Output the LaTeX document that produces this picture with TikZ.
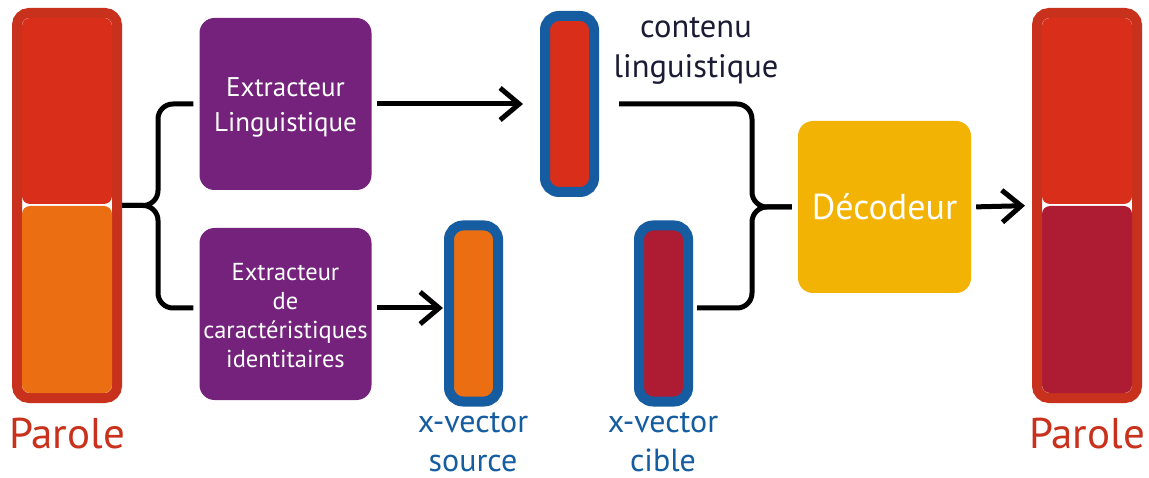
\documentclass[tikz,border=0pt]{standalone}
\usepackage{fontspec}
\setmainfont{PT Sans}
\usetikzlibrary{arrows.meta,calc}

\definecolor{barborder}{HTML}{C8311C}
\definecolor{segred}{HTML}{D82E1A}
\definecolor{segorange}{HTML}{EB6F12}
\definecolor{segwine}{HTML}{AE1C33}
\definecolor{extpurple}{HTML}{74227C}
\definecolor{vecblue}{HTML}{155CA0}
\definecolor{decyellow}{HTML}{F3B304}
\definecolor{labelnavy}{HTML}{1B1B35}

\tikzset{
  speechbar/.style={draw=barborder, line width=10pt, fill=white,
    minimum width=100pt, minimum height=385pt, rounded corners=12pt, inner sep=0pt},
  segment/.style={rounded corners=8pt},
  extractor/.style={fill=extpurple, rounded corners=15pt,
    minimum width=172pt, minimum height=172pt, inner sep=0pt},
  boxtext/.style={text=white, align=center, anchor=base, inner sep=0pt},
  vecbox/.style={draw=vecblue, line width=10pt, rounded corners=14pt,
    minimum width=49pt, minimum height=176pt, inner sep=0pt},
  decoder/.style={fill=decyellow, text=white, rounded corners=15pt,
    minimum width=173pt, minimum height=172pt, inner sep=0pt},
  conn/.style={line width=5pt, black},
  flow/.style={conn, -{Straight Barb[length=19pt,width=32pt,line width=5pt]}},
  brace/.style={conn, rounded corners=15pt},
}

\begin{document}
\begin{tikzpicture}[x=1pt, y=-1pt]
  \useasboundingbox (0,0) rectangle (1149,478);

  % input speech bar
  \node[speechbar] (parole) at (67,205.5) {};
  \fill[segred, segment] (22,18) rectangle (112,204);
  \fill[segorange, segment] (22,206) rectangle (112,393);
  \node[text=barborder, font=\fontsize{43}{43}\selectfont, anchor=base] (paroleIn) at (67,448) {Parole};

  % output speech bar
  \node[speechbar] (paroleOut) at (1087,205.5) {};
  \fill[segred, segment] (1042,18) rectangle (1132,204);
  \fill[segwine, segment] (1042,206) rectangle (1132,393);
  \node[text=barborder, font=\fontsize{43}{43}\selectfont, anchor=base] (paroleOutLbl) at (1087,448) {Parole};

  % extractors
  \node[extractor] (ling) at (285.5,104) {};
  \node[boxtext, font=\fontsize{27}{35}\selectfont] (lingTxt) at (285.5,132) {Extracteur\\Linguistique};
  \node[extractor] (ident) at (285.5,314) {};
  \node[boxtext, font=\fontsize{24.5}{29.3}\selectfont] (identTxt) at (285.5,368) {Extracteur\\de\\caractéristiques\\identitaires};

  % embedding vectors
  \node[vecbox, fill=segred] (lvec) at (569.5,104) {};
  \node[vecbox, fill=segorange] (svec) at (473.5,313.5) {};
  \node[vecbox, fill=segwine] (cvec) at (663.5,313.5) {};

  \node[text=labelnavy, font=\fontsize{32.5}{40}\selectfont, align=center, anchor=base] (lvecLbl) at (696,78) {contenu\\linguistique};
  \node[text=vecblue, font=\fontsize{32}{39}\selectfont, align=center, anchor=base] (svecLbl) at (473,471) {x-vector\\source};
  \node[text=vecblue, font=\fontsize{32}{39}\selectfont, align=center, anchor=base] (cvecLbl) at (663,471) {x-vector\\cible};

  % decoder
  \node[decoder, font=\fontsize{36}{36}\selectfont] (dec) at (884.5,207) {Décodeur};

  % junction points of the two braces
  \coordinate (jl) at (158,205.5);
  \coordinate (jr) at (752,207);
  \coordinate (rowB) at (0,308);

  % split of the input speech
  \draw[brace, shorten >=6pt] (parole.east) -- (jl) |- (ling.west);
  \draw[brace, shorten >=6pt] (parole.east) -- (jl) |- (ident.west |- rowB);

  % extractor outputs
  \draw[flow, shorten <=5pt, shorten >=17pt] (ling.east) -- (lvec.west);
  \draw[flow, shorten <=5pt, shorten >=1pt] (ident.east |- rowB) -- (svec.west |- rowB);

  % merge into the decoder
  \draw[brace, shorten <=20pt, shorten >=6pt] (lvec.east) -| (jr) -- (dec.west);
  \draw[brace, shorten <=4pt, shorten >=6pt] (cvec.east |- rowB) -| (jr) -- (dec.west);

  % decoder output
  \draw[flow, shorten <=5pt, shorten >=7pt] (dec.east) -- (paroleOut.west);
\end{tikzpicture}
\end{document}
